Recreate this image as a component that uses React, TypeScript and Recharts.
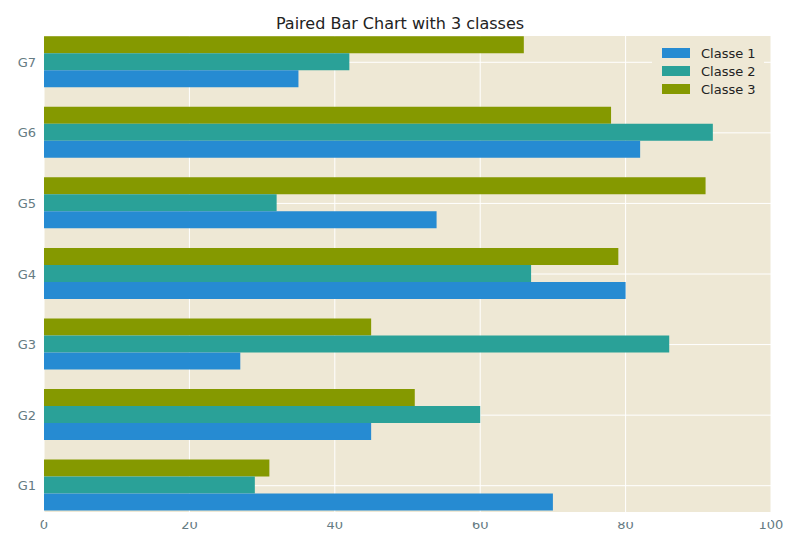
import React from "react";
import { BarChart, Bar, XAxis, YAxis, CartesianGrid } from "recharts";

const groups = ["G1", "G2", "G3", "G4", "G5", "G6", "G7"];
const classe1 = [70, 45, 27, 80, 54, 82, 35];
const classe2 = [29, 60, 86, 67, 32, 92, 42];
const classe3 = [31, 51, 45, 79, 91, 78, 66];
const xTicks = [0, 20, 40, 60, 80, 100];

const data = groups.map((g, i) => ({ g, c1: classe1[i], c2: classe2[i], c3: classe3[i] }));
const colors = { c1: "#268bd2", c2: "#2aa198", c3: "#859900" };
const bg = "#eee8d5";
const font = "DejaVu Sans, sans-serif";

export default function App() {
  const legend = [
    ["Classe 1", colors.c1],
    ["Classe 2", colors.c2],
    ["Classe 3", colors.c3],
  ];
  return (
    <div style={{ position: "fixed", left: 0, top: 0, width: 800, height: 550, background: "#fff", fontFamily: font }}>
      <div style={{ position: "absolute", left: 44, top: 36, width: 727, height: 476, background: bg }} />
      <div style={{ position: "absolute", top: 0 }}>
        <BarChart
          width={800}
          height={550}
          data={data}
          layout="vertical"
          margin={{ top: 27, right: 29, left: 14, bottom: 9 }}
          barGap={0}
          barCategoryGap="13%"
        >
          <CartesianGrid stroke="#ffffff" strokeWidth={1} />
          <XAxis
            type="number"
            domain={[0, 100]}
            ticks={xTicks}
            height={20}
            axisLine={false}
            tickLine={false}
            tick={{ fill: "#657b83", fontSize: 13, fontFamily: font, dy: -9 }}
          />
          <YAxis
            type="category"
            dataKey="g"
            reversed
            width={30}
            axisLine={false}
            tickLine={false}
            tick={{ fill: "#657b83", fontSize: 13, fontFamily: font }}
          />
          <Bar dataKey="c3" fill={colors.c3} isAnimationActive={false} />
          <Bar dataKey="c2" fill={colors.c2} isAnimationActive={false} />
          <Bar dataKey="c1" fill={colors.c1} isAnimationActive={false} />
        </BarChart>
      </div>
      <div style={{ position: "absolute", left: 44, top: 26, width: 727, height: 10, background: "#fff" }} />
      <div style={{ position: "absolute", left: 44, top: 512, width: 727, height: 10, background: "#fff" }} />
      <div style={{ position: "absolute", left: 0, top: 14, width: 800, textAlign: "center", fontSize: 16, color: "#222" }}>
        Paired Bar Chart with 3 classes
      </div>
      <div style={{ position: "absolute", left: 652, top: 42, width: 112, background: bg, padding: "2px 0" }}>
        {legend.map(([name, c]) => (
          <div key={name} style={{ display: "flex", alignItems: "center", height: 18, marginLeft: 10 }}>
            <div style={{ width: 28, height: 10, background: c, marginRight: 11 }} />
            <span style={{ fontSize: 13, color: "#222" }}>{name}</span>
          </div>
        ))}
      </div>
    </div>
  );
}
